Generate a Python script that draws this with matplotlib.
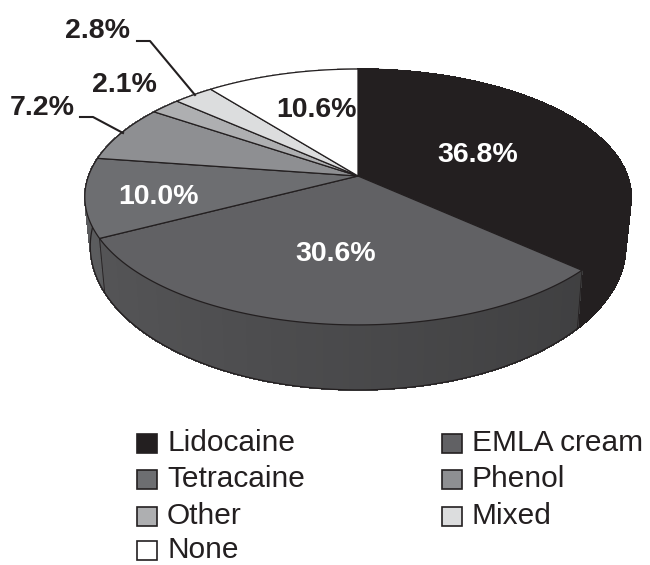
#!/usr/bin/env python3
import numpy as np
import matplotlib
matplotlib.use('Agg')
import matplotlib.pyplot as plt
from matplotlib.patches import Polygon, Rectangle
from matplotlib.collections import PolyCollection
from matplotlib.colors import to_rgb

categories = ['Lidocaine', 'EMLA cream', 'Tetracaine', 'Phenol', 'Other', 'Mixed', 'None']
values = [36.8, 30.6, 10.0, 7.2, 2.1, 2.8, 10.6]
colors = ['#231f20', '#616164', '#6d6e71', '#8e8f92', '#aeafb1', '#dcddde', '#ffffff']
side_colors = ['#231f20', '#565658', '#5c5d5f', '#77787a', '#929395', '#bbbcbe', '#dddddd']
labels = ['36.8%', '30.6%', '10.0%', '7.2%', '2.1%', '2.8%', '10.6%']
label_colors = ['white', 'white', 'white', '#231f20', '#231f20', '#231f20', '#231f20']

DARK = '#231f20'
CX, CY = 358, 176
K = 0.164
FONT = ['Liberation Sans', 'DejaVu Sans']


def rim(theta, lower=False):
    # perspective view of a circle, theta clockwise from the top
    u, v = np.sin(theta), np.cos(theta)
    d = 1 + K * v
    if lower:
        return CX + 0.98 * 269.5 * u / d, 222.5 - 140 * v / d
    return CX + 269.5 * u / d, CY - 124.5 * v / d


fig = plt.figure(figsize=(6.5, 5.65), dpi=100)
ax = fig.add_axes([0, 0, 1, 1])
ax.set_xlim(0, 650)
ax.set_ylim(565, 0)
ax.axis('off')

edges = np.concatenate([[0], np.cumsum(values)]) / np.sum(values) * 2 * np.pi

# side wall
quads = []
for i in range(len(values)):
    t = np.linspace(edges[i], edges[i + 1], int(values[i] * 3) + 2)
    xt, yt = rim(t)
    xb, yb = rim(t, lower=True)
    for j in range(len(t) - 1):
        mid = (t[j] + t[j + 1]) / 2
        q = [(xt[j], yt[j]), (xt[j + 1], yt[j + 1]), (xb[j + 1], yb[j + 1]), (xb[j], yb[j])]
        shade = 1 - 0.30 * (np.sin(mid) + 1) / 2
        c = tuple(np.array(to_rgb(side_colors[i])) * shade) if i > 0 else to_rgb(side_colors[i])
        quads.append((np.cos(mid), q, c))
quads.sort(key=lambda a: -a[0])
ax.add_collection(PolyCollection([a[1] for a in quads], facecolors=[a[2] for a in quads],
                                 edgecolors=[a[2] for a in quads], linewidths=0.6,
                                 antialiased=False, zorder=1))

# front rim and wall boundaries
t = np.linspace(np.pi * 0.45, np.pi * 1.6, 300)
xb, yb = rim(t, lower=True)
ax.plot(xb, yb, color=DARK, lw=0.9, zorder=2)
for e in edges[1:3]:
    xt, yt = rim(e)
    xl, yl = rim(e, lower=True)
    ax.plot([xt, xl], [yt, yl], color=DARK, lw=0.6, zorder=2)

# top face
for i in range(len(values)):
    t = np.linspace(edges[i], edges[i + 1], int(values[i] * 4) + 2)
    x, y = rim(t)
    pts = np.column_stack([np.r_[CX, x], np.r_[CY, y]])
    ax.add_patch(Polygon(pts, closed=True, facecolor=colors[i], edgecolor=DARK, lw=0.9, zorder=3))

# leader lines
ax.plot([137, 150, 195], [41, 41, 95], color=DARK, lw=1.5, zorder=4)
ax.plot([80, 93, 123], [117, 117, 133], color=DARK, lw=1.5, zorder=4)

label_pos = [(478, 155), (336, 254), (158, 197), (42, 108), (124, 85), (98, 31), (316, 110)]
for s, c, p in zip(labels, label_colors, label_pos):
    ax.text(p[0], p[1], s, color=c, ha='center', va='center', fontweight='bold', fontsize=20.5,
            family=FONT, zorder=5)

# legend
legend_pos = [(137, 443), (442, 443), (137, 479), (442, 479), (137, 516), (442, 516), (137, 550)]
for name, c, p in zip(categories, colors, legend_pos):
    ax.add_patch(Rectangle((p[0], p[1] - 9.5), 20, 19, facecolor=c, edgecolor=DARK, lw=1.2, zorder=5))
    ax.text(p[0] + 30, p[1], name, color=DARK, ha='left', va='center', fontsize=21.5,
            family=FONT, zorder=5)

fig.savefig('out.png', dpi=100, facecolor='white')
